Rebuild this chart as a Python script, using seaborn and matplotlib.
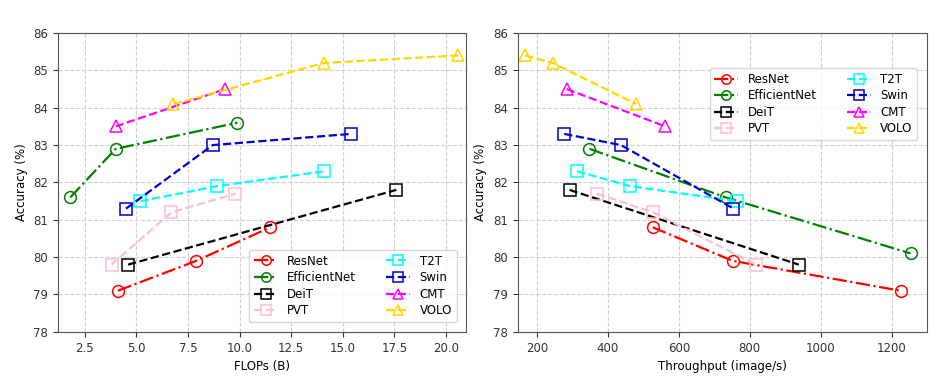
import matplotlib
matplotlib.use('Agg')
import matplotlib.pyplot as plt
import seaborn as sns

models = ['ResNet', 'EfficientNet', 'DeiT', 'PVT', 'T2T', 'Swin', 'CMT', 'VOLO']

# left panel: FLOPs (B) vs accuracy
flops = {
    'ResNet': [4.1, 7.9, 11.5],
    'EfficientNet': [1.8, 4.0, 9.9],
    'DeiT': [4.6, 17.6],
    'PVT': [3.8, 6.7, 9.8],
    'T2T': [5.2, 8.9, 14.1],
    'Swin': [4.5, 8.7, 15.4],
    'CMT': [4.0, 9.3],
    'VOLO': [6.8, 14.1, 20.6],
}
acc_flops = {
    'ResNet': [79.1, 79.9, 80.8],
    'EfficientNet': [81.6, 82.9, 83.6],
    'DeiT': [79.8, 81.8],
    'PVT': [79.8, 81.2, 81.7],
    'T2T': [81.5, 81.9, 82.3],
    'Swin': [81.3, 83.0, 83.3],
    'CMT': [83.5, 84.5],
    'VOLO': [84.1, 85.2, 85.4],
}

# right panel: throughput (image/s) vs accuracy
throughput = {
    'ResNet': [526, 752, 1225],
    'EfficientNet': [348, 732, 1253],
    'DeiT': [292, 938],
    'PVT': [369, 527, 817],
    'T2T': [313, 463, 763],
    'Swin': [277, 437, 754],
    'CMT': [284, 562],
    'VOLO': [167, 244, 480],
}
acc_tp = {
    'ResNet': [80.8, 79.9, 79.1],
    'EfficientNet': [82.9, 81.6, 80.1],
    'DeiT': [81.8, 79.8],
    'PVT': [81.7, 81.2, 79.8],
    'T2T': [82.3, 81.9, 81.5],
    'Swin': [83.3, 83.0, 81.3],
    'CMT': [84.5, 83.5],
    'VOLO': [85.4, 85.2, 84.1],
}

colors = {'ResNet': 'red', 'EfficientNet': 'green', 'DeiT': 'black', 'PVT': 'pink',
          'T2T': 'cyan', 'Swin': 'mediumblue', 'CMT': 'magenta', 'VOLO': 'gold'}
markers = {'ResNet': 'o', 'EfficientNet': 'o', 'DeiT': 's', 'PVT': 's',
           'T2T': 's', 'Swin': 's', 'CMT': '^', 'VOLO': '^'}
styles = {'ResNet': '-.', 'EfficientNet': '-.', 'DeiT': '--', 'PVT': '--',
          'T2T': '--', 'Swin': '--', 'CMT': '--', 'VOLO': '--'}

plt.rcParams['font.size'] = 8

fig = plt.figure(figsize=(9.5, 3.89), dpi=100)
ax1 = fig.add_axes([0.061, 0.147, 0.430, 0.768])
ax2 = fig.add_axes([0.545, 0.147, 0.431, 0.768])


def draw(ax, xs, ys):
    for m in models:
        sns.lineplot(x=xs[m], y=ys[m], ax=ax, color=colors[m], marker=markers[m],
                     linestyle=styles[m], linewidth=1.6, markersize=8.5,
                     markerfacecolor='none', markeredgecolor=colors[m],
                     markeredgewidth=1.1, label=m, sort=False)
    ax.set_ylim(78, 86)
    ax.set_yticks(range(78, 87))
    ax.set_ylabel('Accuracy (%)', fontsize=8.5)
    ax.grid(True, linestyle='--', color='#d0d0d0', linewidth=0.8)
    ax.set_axisbelow(True)
    for s in ax.spines.values():
        s.set_color('#555555')
    ax.tick_params(labelsize=8.5, colors='#333333')


def add_legend(ax, loc, anchor):
    ax.legend(ncol=2, loc=loc, bbox_to_anchor=anchor, borderaxespad=0,
              fontsize=8.5, columnspacing=2.6, labelspacing=0.3,
              handlelength=2.0, markerscale=0.8, framealpha=0.8)


draw(ax1, flops, acc_flops)
ax1.set_xlim(1.2, 21.0)
ax1.set_xticks([2.5, 5.0, 7.5, 10.0, 12.5, 15.0, 17.5, 20.0])
ax1.set_xlabel('FLOPs (B)', fontsize=8.5)
add_legend(ax1, 'lower right', (0.976, 0.033))

draw(ax2, throughput, acc_tp)
ax2.set_xlim(146, 1300)
ax2.set_xticks([200, 400, 600, 800, 1000, 1200])
ax2.set_xlabel('Throughput (image/s)', fontsize=8.5)
add_legend(ax2, 'upper right', (0.976, 0.883))

fig.savefig('out.png', dpi=100)
